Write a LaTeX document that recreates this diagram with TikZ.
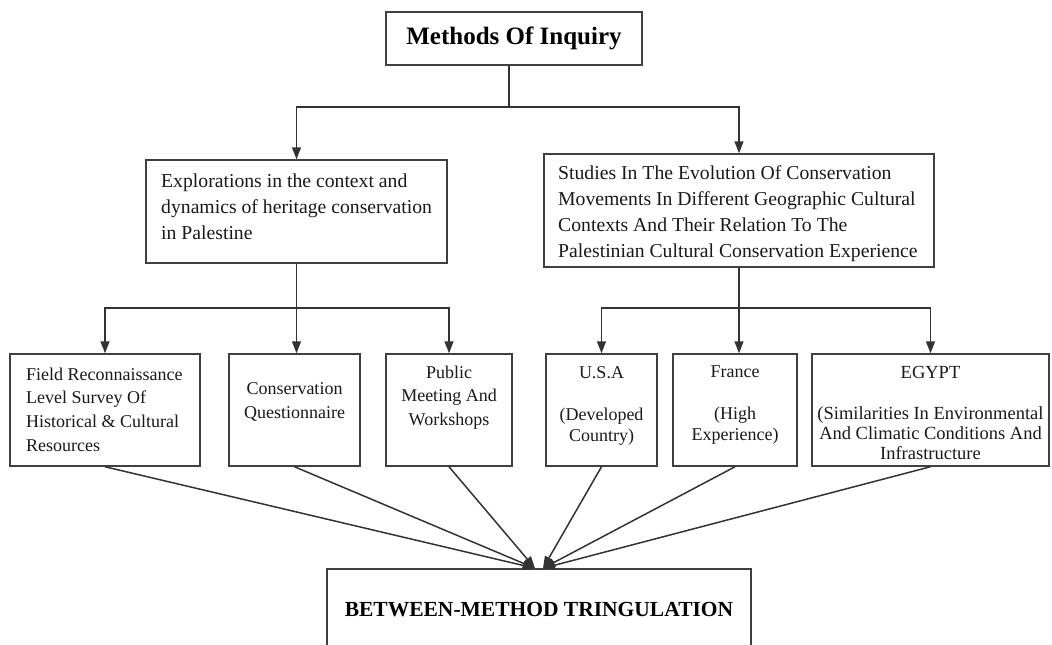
\documentclass[tikz,border=0pt]{standalone}
\usepackage{fontspec}
\setmainfont{Liberation Serif}
\usetikzlibrary{arrows.meta}
\begin{document}
\begin{tikzpicture}[x=1pt,y=-1pt,
  box/.style={draw=black!75, line width=1.5pt, inner sep=0pt},
  txt/.style={inner sep=0pt, text=black!90, font=\fontsize{18}{23.7}\selectfont, align=center},
  midtxt/.style={inner sep=0pt, text=black!90, font=\fontsize{19.7}{26.2}\selectfont, align=left},
  ln/.style={draw=black!80, line width=1.5pt},
  arr/.style={ln, -{Triangle[length=12pt,width=9pt]}}]
\useasboundingbox (0,0) rectangle (1052,645);
\clip (0,0) rectangle (1052,645);

% boxes
\node[box, minimum width=256, minimum height=53, font=\fontsize{25}{30}\selectfont\bfseries] (top) at (514,38.5) {Methods Of Inquiry};
\node[box, minimum width=301, minimum height=103] (mid1) at (296.5,211.5) {};
\node[box, minimum width=390, minimum height=113] (mid2) at (739,210.5) {};
\node[box, minimum width=190, minimum height=112] (field) at (105,410) {};
\node[box, minimum width=131, minimum height=112] (cons) at (294.5,410) {};
\node[box, minimum width=126, minimum height=112] (pub) at (449,410) {};
\node[box, minimum width=111, minimum height=112] (usa) at (601.5,410) {};
\node[box, minimum width=124, minimum height=112] (fra) at (735,410) {};
\node[box, minimum width=237, minimum height=112] (egy) at (930.5,410) {};
\node[box, minimum width=424, minimum height=82, font=\fontsize{21.5}{26}\selectfont\bfseries] (bot) at (539,610) {BETWEEN-METHOD TRINGULATION};

% texts
\node[midtxt, anchor=west] (mid1T) at (161,207) {Explorations in the context and\\dynamics of heritage conservation\\in Palestine};
\node[midtxt, anchor=west] (mid2T) at (558,213.5) {Studies In The Evolution Of Conservation\\Movements In Different Geographic Cultural\\Contexts And Their Relation To The\\Palestinian Cultural Conservation Experience};
\node[txt, align=left, anchor=west] (fieldT) at (26,409.5) {Field Reconnaissance\\Level Survey Of\\Historical \& Cultural\\Resources};
\node[txt, font=\fontsize{18}{24}\selectfont] (consT) at (294.5,402) {Conservation\\Questionnaire};
\node[txt] (pubT) at (449,397.5) {Public\\Meeting And\\Workshops};
\node[txt, font=\fontsize{18}{21}\selectfont] (usaT) at (601.5,405.5) {U.S.A\\[21pt](Developed\\Country)};
\node[txt, font=\fontsize{18}{21}\selectfont] (fraT) at (735,405.5) {France\\[21pt](High\\Experience)};
\node[txt, font=\fontsize{18.5}{20}\selectfont] (egyT) at (930.5,413) {EGYPT\\[21pt](Similarities In Environmental\\And Climatic Conditions And\\Infrastructure};

% connectors
\coordinate (j1) at (509,107);
\coordinate (lv) at (0,308);
\draw[ln] (top.south -| j1) -- (j1);
\draw[arr] (j1) -| (mid1.north);
\draw[arr] (j1) -| (mid2.north);

\draw[ln] (mid1.south) -- (mid1.south |- lv);
\draw[arr] (mid1.south |- lv) -| (field.north);
\draw[arr] (mid1.south |- lv) -- (cons.north -| mid1.south);
\draw[arr] (mid1.south |- lv) -| (pub.north);

\draw[ln] (mid2.south) -- (mid2.south |- lv);
\draw[arr] (mid2.south |- lv) -| (usa.north);
\draw[arr] (mid2.south |- lv) -- (fra.north -| mid2.south);
\draw[arr] (mid2.south |- lv) -| (egy.north);

\foreach \n in {field,cons,pub} \draw[arr] (\n.south) -- ([xshift=-4pt]bot.north);
\foreach \n in {usa,fra,egy} \draw[arr] (\n.south) -- ([xshift=4pt]bot.north);
\end{tikzpicture}
\end{document}
